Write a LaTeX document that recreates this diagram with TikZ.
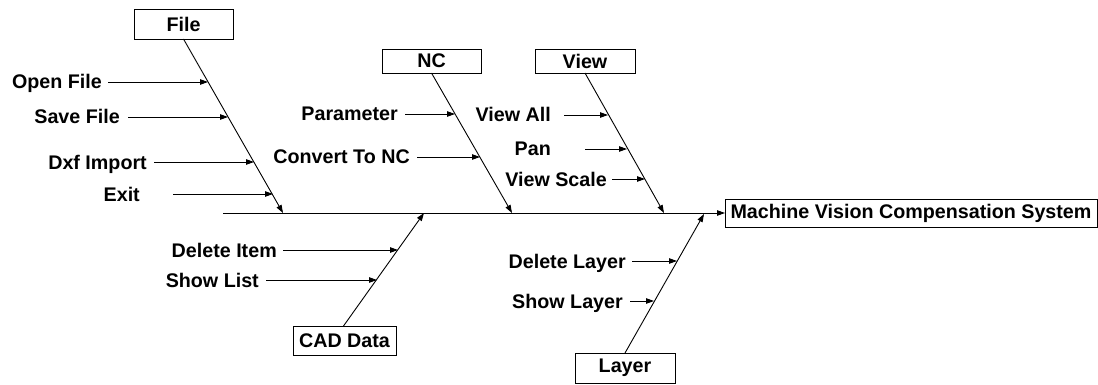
\documentclass[tikz,border=0pt]{standalone}
\usepackage{fontspec}
\setmainfont{Liberation Sans}
\usetikzlibrary{arrows.meta}
\begin{document}
\begin{tikzpicture}[x=1pt,y=-1pt,
  font=\fontsize{19.7}{21}\selectfont\bfseries,
  box/.style={draw,line width=0.9pt,inner sep=0pt,outer sep=0pt,anchor=north west},
  lbl/.style={inner sep=0pt,anchor=base east},
  bone/.style={line width=0.9pt},
  twig/.style={line width=0.9pt,-{Triangle[length=8pt,width=5.5pt]}}]
\useasboundingbox (0,0) rectangle (1098,385);

% category boxes
\node[box,minimum width=99pt,minimum height=30pt] (file) at (134,9) {File};
\node[box,minimum width=99pt,minimum height=24pt] (nc) at (382,49) {NC};
\node[box,minimum width=100pt,minimum height=24pt] (view) at (535,49) {View};
\node[box,minimum width=103pt,minimum height=29pt] (cad) at (293,326) {CAD Data};
\node[box,minimum width=100pt,minimum height=30pt] (layer) at (575,353) {Layer};
\node[box,minimum width=372pt,minimum height=28pt] (goal) at (725,199) {Machine Vision Compensation System};

% spine
\coordinate (spine0) at (223,213);
\draw[twig] (spine0) -- (goal.west);

% bone tips on the spine
\coordinate (fileTip) at (283,213);
\coordinate (ncTip) at (512,213);
\coordinate (viewTip) at (664,213);
\coordinate (cadTip) at (424,213);
\coordinate (layerTip) at (704,214);

\draw[twig] (file.south) -- (fileTip);
\draw[twig] (nc.south) -- (ncTip);
\draw[twig] (view.south) -- (viewTip);
\draw[twig] (cad.north) ++(-1,0) -- (cadTip);
\draw[twig] (layer.north) -- (layerTip);

% cause labels (placed by baseline)
\node[lbl] (open) at (102,89) {Open File};
\node[lbl] (save) at (120,124) {Save File};
\node[lbl] (dxf) at (147,169) {Dxf Import};
\node[lbl] (exit) at (140,201) {Exit};
\node[lbl] (param) at (398,121) {Parameter};
\node[lbl] (conv) at (410,164) {Convert To NC};
\node[lbl] (vall) at (551,122) {View All};
\node[lbl] (pan) at (551,156) {Pan};
\node[lbl] (vscale) at (607,186) {View Scale};
\node[lbl] (ditem) at (277,257) {Delete Item};
\node[lbl] (slist) at (259,287) {Show List};
\node[lbl] (dlayer) at (626,268) {Delete Layer};
\node[lbl] (slayer) at (623,308) {Show Layer};

% where each cause meets its bone
\coordinate (openE) at (208,82);
\coordinate (saveE) at (228,117);
\coordinate (dxfE) at (254,162);
\coordinate (exitE) at (273,194);
\coordinate (paramE) at (455,114);
\coordinate (convE) at (480,157);
\coordinate (vallE) at (608,115);
\coordinate (panE) at (627,149);
\coordinate (vscaleE) at (645,179);
\coordinate (ditemE) at (398,250);
\coordinate (slistE) at (377,280);
\coordinate (dlayerE) at (677,261);
\coordinate (slayerE) at (654,301);

\draw[twig] (openE -| open.east) ++(6,0) -- (openE);
\draw[twig] (saveE -| save.east) ++(8,0) -- (saveE);
\draw[twig] (dxfE -| dxf.east) ++(7,0) -- (dxfE);
\draw[twig] (exitE -| exit.east) ++(33,0) -- (exitE);
\draw[twig] (paramE -| param.east) ++(7,0) -- (paramE);
\draw[twig] (convE -| conv.east) ++(7,0) -- (convE);
\draw[twig] (vallE -| vall.east) ++(13,0) -- (vallE);
\draw[twig] (panE -| pan.east) ++(34,0) -- (panE);
\draw[twig] (vscaleE -| vscale.east) ++(5,0) -- (vscaleE);
\draw[twig] (ditemE -| ditem.east) ++(6,0) -- (ditemE);
\draw[twig] (slistE -| slist.east) ++(7,0) -- (slistE);
\draw[twig] (dlayerE -| dlayer.east) ++(6,0) -- (dlayerE);
\draw[twig] (slayerE -| slayer.east) ++(7,0) -- (slayerE);
\end{tikzpicture}
\end{document}
